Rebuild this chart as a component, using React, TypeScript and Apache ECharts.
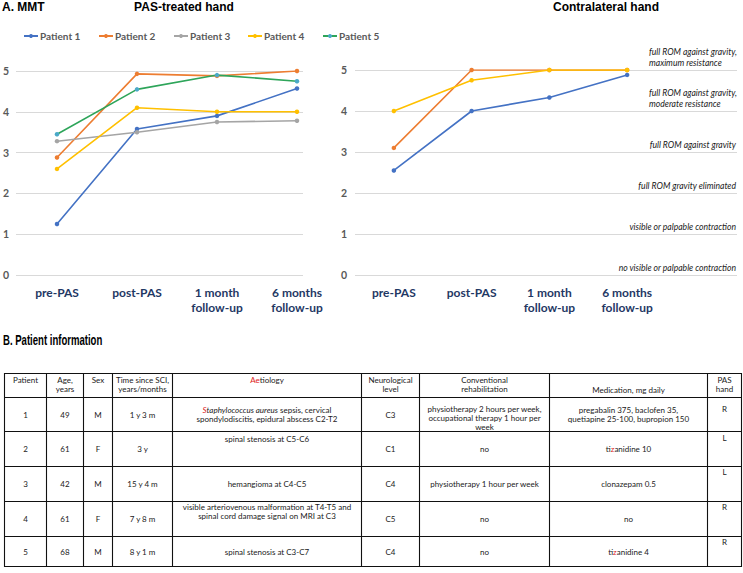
import React, { useEffect, useRef } from 'react';
import * as echarts from 'echarts';

// ---------- data ----------
const categories = ['pre-PAS', 'post-PAS', '1 month\nfollow-up', '6 months\nfollow-up'];
const patientNames = ['Patient 1', 'Patient 2', 'Patient 3', 'Patient 4', 'Patient 5'];

// MMT, PAS-treated hand
const treatedP1 = [1.25, 3.58, 3.9, 4.57];
const treatedP2 = [2.88, 4.93, 4.88, 5.0];
const treatedP3 = [3.28, 3.5, 3.75, 3.78];
const treatedP4 = [2.6, 4.1, 4.0, 4.0];
const treatedP5 = [3.45, 4.55, 4.9, 4.75];

// MMT, contralateral hand
const contraP1 = [2.55, 4.0, 4.33, 4.88];
const contraP2 = [3.1, 5.0, 5.0, 5.0];
const contraP4 = [4.0, 4.75, 5.0, 5.0];

const gradeValues = [0, 1, 2, 3, 4, 5];
const gradeLabels = [
  'no visible or palpable contraction',
  'visible or palpable contraction',
  'full ROM gravity eliminated',
  'full ROM against gravity',
  'full ROM against gravity,\nmoderate resistance',
  'full ROM against gravity,\nmaximum resistance',
];

// Patient information table
const tableHeaders = ['Patient', 'Age,\nyears', 'Sex', 'Time since SCI,\nyears/months', '{r|Ae}tiology', 'Neurological\nlevel', 'Conventional\nrehabilitation', 'Medication, mg daily', 'PAS\nhand'];
const patientIds = ['1', '2', '3', '4', '5'];
const ages = ['49', '61', '42', '61', '68'];
const sexes = ['M', 'F', 'M', 'F', 'M'];
const timeSinceSCI = ['1 y 3 m', '3 y', '15 y 4 m', '7 y 8 m', '8 y 1 m'];
const aetiology = [
  '{ri|S}{i|taphylococcus aureus} sepsis, cervical\nspondylodiscitis, epidural abscess C2-T2',
  'spinal stenosis at C5-C6',
  'hemangioma at C4-C5',
  'visible arteriovenous malformation at T4-T5 and\nspinal cord damage signal on MRI at C3',
  'spinal stenosis at C3-C7',
];
const neuroLevel = ['C3', 'C1', 'C4', 'C5', 'C4'];
const rehabilitation = [
  'physiotherapy 2 hours per week,\noccupational therapy 1 hour per\nweek',
  'no',
  'physiotherapy 1 hour per week',
  'no',
  'no',
];
const medication = [
  'pregabalin 375, baclofen 35,\nquetiapine 25-100, bupropion 150',
  'ti{r|z}anidine 10',
  'clonazepam 0.5',
  'no',
  'ti{r|z}anidine 4',
];
const pasHand = ['R', 'L', 'L', 'R', 'R'];

// ---------- styling / layout ----------
const COLORS = ['#4472C4', '#ED7D31', '#A5A5A5', '#FFC000', '#2EA55A'];
const MARKERS = ['#4472C4', '#ED7D31', '#A5A5A5', '#FFC000', '#4BA9C8'];
const FONT = 'Lato, "Noto Sans", sans-serif';
const NAVY = '#1F3864';

const L = { top: 71, height: 204, gridLeft: 15, gridWidth: 288, seriesLeft: 17, seriesWidth: 320 };
const R = { top: 70, height: 205, gridLeft: 355, gridWidth: 382, seriesLeft: 355, seriesWidth: 311 };

const colEdges = [4, 46, 83, 112, 172, 361, 419, 549, 707, 741];
const rowEdges = [373, 397, 431, 466, 501, 536, 566];
// vertical placement per cell: 'm' = middle, 'b' = bottom, number = top padding
const vAlign: (string | number)[][] = [
  [2.5, 2.5, 2.5, 2.5, 2.5, 2.5, 2.5, 'b', 2.5],
  ['m', 'm', 'm', 'm', 'm', 'm', 7, 'm', 7.5],
  ['m', 'm', 'm', 'm', 3.5, 'm', 'm', 'm', 2.5],
  ['m', 'm', 'm', 'm', 'm', 'm', 'm', 'm', 1],
  ['m', 'm', 'm', 'm', 1.5, 'm', 'm', 'm', 1.5],
  ['m', 'm', 'm', 'm', 'm', 'm', 'm', 'm', 1],
];

function buildOption() {
  const yGridAxis = (gridIndex: number, margin: number) => ({
    type: 'value', gridIndex, min: 0, max: 5, interval: 1,
    axisLine: { show: false }, axisTick: { show: false },
    axisLabel: { color: '#595959', fontWeight: 'bold', fontSize: 10.5, fontFamily: FONT, align: 'left', margin },
    splitLine: { lineStyle: { color: '#D9D9D9', width: 1 } },
  });
  const yHidden = (gridIndex: number) => ({ type: 'value', gridIndex, min: 0, max: 5, show: false });
  const xHidden = (gridIndex: number) => ({ type: 'value', gridIndex, min: 0, max: 1, show: false });
  const xCat = (gridIndex: number) => ({
    type: 'category', gridIndex, data: categories, boundaryGap: true,
    axisLine: { show: false }, axisTick: { show: false }, splitLine: { show: false },
    axisLabel: { color: NAVY, fontWeight: 'bold', fontSize: 12, fontFamily: FONT, margin: 10, lineHeight: 15, interval: 0 },
  });

  const line = (name: string, data: number[], i: number, xi: number, yi: number) => ({
    type: 'line', name, data, xAxisIndex: xi, yAxisIndex: yi,
    symbol: 'circle', symbolSize: 4.5, showSymbol: true,
    lineStyle: { color: COLORS[i], width: 1.6 },
    itemStyle: { color: MARKERS[i] },
    emphasis: { disabled: true },
  });

  const treated = [treatedP1, treatedP2, treatedP3, treatedP4, treatedP5];
  const series: any[] = treated.map((d, i) => line(patientNames[i], d, i, 1, 1));
  series.push(line(patientNames[0], contraP1, 0, 3, 3));
  series.push(line(patientNames[1], contraP2, 1, 3, 3));
  series.push(line(patientNames[3], contraP4, 3, 3, 3));

  const legendLefts = [23, 98, 173, 247, 322];
  const legend = patientNames.map((n, i) => ({
    data: [n], left: legendLefts[i], top: 31, padding: 0,
    itemWidth: 14, itemHeight: 5, selectedMode: false,
    textStyle: { color: '#595959', fontWeight: 'bold', fontSize: 10, fontFamily: FONT, padding: [0, 0, 0, -3] },
  }));

  const graphic: any[] = [];
  const titleFont = { fontFamily: '"Liberation Sans", Arial, sans-serif', fontWeight: 'bold', fontSize: 12, fill: '#000' };
  graphic.push({ type: 'text', x: 2, y: 7, style: { text: 'A. MMT', ...titleFont, verticalAlign: 'middle' } });
  graphic.push({ type: 'text', x: 184, y: 7, style: { text: 'PAS-treated hand', ...titleFont, align: 'center', verticalAlign: 'middle' } });
  graphic.push({ type: 'text', x: 606, y: 7, style: { text: 'Contralateral hand', ...titleFont, align: 'center', verticalAlign: 'middle' } });
  graphic.push({
    type: 'text', x: 3, y: 340, scaleX: 0.66,
    style: { text: 'B. Patient information', fontFamily: '"Liberation Sans", Arial, sans-serif', fontWeight: 'bold', fontSize: 14.5, fill: '#000', verticalAlign: 'middle' },
  });

  // grade annotations on the contralateral chart
  gradeValues.forEach((v, k) => {
    const gy = R.top + (1 - v / 5) * R.height;
    const twoLine = gradeLabels[k].indexOf('\n') >= 0;
    graphic.push({
      type: 'text', x: twoLine ? 649 : 736, y: gy - 2,
      style: {
        text: gradeLabels[k], align: twoLine ? 'left' : 'right', verticalAlign: 'bottom',
        fontFamily: FONT, fontStyle: 'italic', fontSize: 8.6, lineHeight: 10.5, fill: '#1a1a1a',
      },
    });
  });

  // table
  const base = { fill: '#1a1a1a', fontSize: 8, fontFamily: FONT, lineHeight: 9 };
  const rich = {
    r: { ...base, fill: '#E02020' },
    i: { ...base, fontStyle: 'italic' },
    ri: { ...base, fill: '#E02020', fontStyle: 'italic' },
  };
  const rows = [tableHeaders, ...patientIds.map((_, i) => [patientIds[i], ages[i], sexes[i], timeSinceSCI[i], aetiology[i], neuroLevel[i], rehabilitation[i], medication[i], pasHand[i]])];
  const x0 = colEdges[0], x1 = colEdges[colEdges.length - 1];
  const y0 = rowEdges[0], y1 = rowEdges[rowEdges.length - 1];
  colEdges.forEach((x) => graphic.push({ type: 'line', shape: { x1: x + 0.5, y1: y0, x2: x + 0.5, y2: y1 + 1 }, style: { stroke: '#111', lineWidth: 1.1 } }));
  rowEdges.forEach((y) => graphic.push({ type: 'line', shape: { x1: x0, y1: y + 0.5, x2: x1 + 1, y2: y + 0.5 }, style: { stroke: '#111', lineWidth: 1.1 } }));
  rows.forEach((row, r) => {
    const top = rowEdges[r], bottom = rowEdges[r + 1];
    row.forEach((txt, c) => {
      const cx = (colEdges[c] + colEdges[c + 1]) / 2 + 0.5;
      const va = vAlign[r][c];
      const y = typeof va === 'number' ? top + va : va === 'b' ? bottom - 2.5 : (top + bottom) / 2 + 0.5;
      graphic.push({
        type: 'text', x: cx, y,
        style: {
          text: txt, align: 'center', verticalAlign: typeof va === 'number' ? 'top' : va === 'b' ? 'bottom' : 'middle',
          ...base, rich,
        },
      });
    });
  });

  return {
    animation: false,
    backgroundColor: '#fff',
    grid: [
      { left: L.gridLeft, top: L.top, width: L.gridWidth, height: L.height },
      { left: L.seriesLeft, top: L.top, width: L.seriesWidth, height: L.height },
      { left: R.gridLeft, top: R.top, width: R.gridWidth, height: R.height },
      { left: R.seriesLeft, top: R.top, width: R.seriesWidth, height: R.height },
    ],
    xAxis: [xHidden(0), xCat(1), xHidden(2), xCat(3)],
    yAxis: [yGridAxis(0, 13), yHidden(1), yGridAxis(2, 14), yHidden(3)],
    legend,
    series,
    graphic,
  };
}

export default function App() {
  const ref = useRef<HTMLDivElement>(null);
  useEffect(() => {
    const chart = echarts.init(ref.current!, null, { renderer: 'svg' });
    chart.setOption(buildOption() as any);
    return () => chart.dispose();
  }, []);
  return (
    <div
      ref={ref}
      style={{ position: 'absolute', left: 0, top: 0, width: 743, height: 573, background: '#fff' }}
    />
  );
}
